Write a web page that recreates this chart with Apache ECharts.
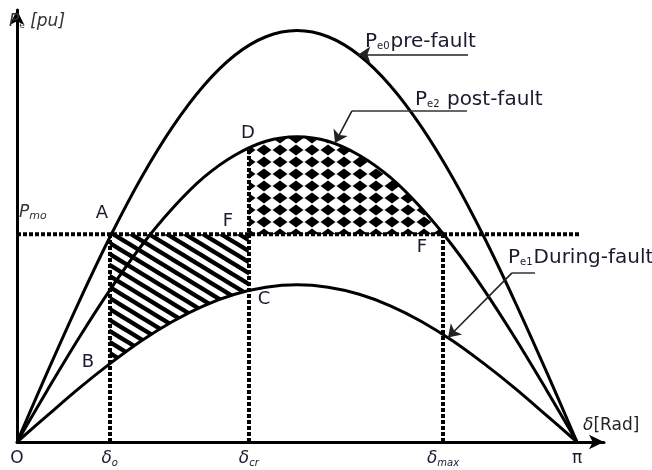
<!DOCTYPE html>
<html><head><meta charset="utf-8">
<script src="https://cdn.jsdelivr.net/npm/echarts@6/dist/echarts.min.js"></script>
<style>html,body{margin:0;padding:0;background:#fff}#c{width:652px;height:470px}</style>
</head><body><div id="c"></div>
<script>
// ---- data ----
const deltaRad = [0, 0.1745, 0.3491, 0.5236, 0.6981, 0.8727, 1.0472, 1.2217, 1.3963, 1.5708,
                  1.7453, 1.9199, 2.0944, 2.2689, 2.4435, 2.6180, 2.7925, 2.9671, 3.1416];
const pePreFault    = [0, 0.174, 0.342, 0.500, 0.643, 0.766, 0.866, 0.940, 0.985, 1.000,
                       0.985, 0.940, 0.866, 0.766, 0.643, 0.500, 0.342, 0.174, 0];
const pePostFault   = [0, 0.129, 0.254, 0.371, 0.477, 0.568, 0.643, 0.697, 0.731, 0.742,
                       0.731, 0.697, 0.643, 0.568, 0.477, 0.371, 0.254, 0.129, 0];
const peDuringFault = [0, 0.066, 0.131, 0.191, 0.246, 0.293, 0.331, 0.359, 0.376, 0.382,
                       0.376, 0.359, 0.331, 0.293, 0.246, 0.191, 0.131, 0.066, 0];
const pMech = 0.505;
const pMechEnd = 3.16;
const delta0 = 0.52, deltaCr = 1.30, deltaMax = 2.39;
const pe1AtDelta0 = 0.19, pe1AtDeltaCr = 0.367, pe2AtDeltaCr = 0.713;
const tickValues = [0, delta0, deltaCr, deltaMax, 3.1416];
const tickLabels = ['{o|O}', '{d|δ}{s|o}', '{d|δ}{s|cr}', '{d|δ}{s|max}', '{o|π}'];

// ---- helpers ----
const zip = (xs, ys) => xs.map((x, i) => [x, ys[i]]);
function hatchPattern() {
  const W = 18, H = 11, c = document.createElement('canvas');
  c.width = W; c.height = H;
  const g = c.getContext('2d');
  g.strokeStyle = '#000'; g.lineWidth = 4.4;
  for (const dx of [-W, 0, W]) { g.beginPath(); g.moveTo(dx - W, -H); g.lineTo(dx + 2 * W, 2 * H); g.stroke(); }
  return c;
}
function diamondPattern() {
  const W = 16, H = 12, c = document.createElement('canvas');
  c.width = W; c.height = H;
  const g = c.getContext('2d');
  g.fillStyle = '#000';
  g.beginPath(); g.moveTo(W / 2, 0.5); g.lineTo(W - 0.5, H / 2); g.lineTo(W / 2, H - 0.5); g.lineTo(0.5, H / 2); g.closePath(); g.fill();
  return c;
}
// region polygons (data space)
const accel = [[delta0, pMech], [deltaCr, pMech], [deltaCr, pe1AtDeltaCr]];
for (let i = deltaRad.length - 1; i >= 0; i--) if (deltaRad[i] > delta0 + 0.01 && deltaRad[i] < deltaCr - 0.01) accel.push([deltaRad[i], peDuringFault[i]]);
accel.push([delta0, pe1AtDelta0]);
const decel = [[deltaCr, pMech], [deltaCr, pe2AtDeltaCr]];
for (let i = 0; i < deltaRad.length; i++) if (deltaRad[i] > deltaCr + 0.01 && deltaRad[i] < deltaMax - 0.01) decel.push([deltaRad[i], pePostFault[i]]);
decel.push([deltaMax, pMech]);

const hatch = { image: hatchPattern(), repeat: 'repeat' };
const diam = { image: diamondPattern(), repeat: 'repeat' };

function regionSeries(poly, fill) {
  return {
    type: 'custom', z: 1, silent: true, data: [[0, 0]],
    renderItem: (params, api) => ({
      type: 'polygon',
      shape: { points: poly.map(p => api.coord(p)) },
      style: { fill: fill, stroke: null }
    })
  };
}
const curve = (ys) => ({
  type: 'line', data: zip(deltaRad, ys), smooth: 0.35, symbol: 'none', z: 5,
  lineStyle: { color: '#000', width: 3 }
});
const dash = { color: '#000', width: 4, type: [4, 2], cap: 'butt', opacity: 1 };

const FONT = '"DejaVu Sans", sans-serif';
const labTxt = '#1a1a2e';
function lbl(x, y, text, size, extra) {
  return Object.assign({ type: 'text', x: x, y: y, z: 50,
    style: Object.assign({ text: text, fill: labTxt, fontFamily: FONT, fontSize: size, verticalAlign: 'middle' }, extra || {}) });
}
const curveRich = {
  p: { fontSize: 20, fontFamily: FONT, fill: labTxt },
  s: { fontSize: 10, fontFamily: FONT, fill: labTxt, padding: [8, 1, 0, 0] },
  n: { fontSize: 20, fontFamily: FONT, fill: labTxt }
};

const chart = echarts.init(document.getElementById('c'), null, { renderer: 'canvas' });
chart.setOption({
  animation: false,
  backgroundColor: '#fff',
  grid: { left: 17, right: 48, top: 10, bottom: 28 },
  xAxis: {
    type: 'value', min: 0, max: 3.293,
    axisLine: { show: true, symbol: ['none', 'arrow'], symbolSize: [11, 15], lineStyle: { color: '#000', width: 3 } },
    axisTick: { show: false }, splitLine: { show: false },
    axisLabel: {
      customValues: tickValues, showMinLabel: true, showMaxLabel: true, margin: 8,
      formatter: (v) => { let k = 0; tickValues.forEach((t, i) => { if (Math.abs(t - v) < Math.abs(tickValues[k] - v)) k = i; }); return tickLabels[k]; },
      rich: {
        o: { fontSize: 17, fontFamily: FONT, color: '#1a1a2e' },
        d: { fontSize: 17, fontFamily: FONT, fontStyle: 'italic', color: '#1a1a2e' },
        s: { fontSize: 10, fontFamily: FONT, fontStyle: 'italic', color: '#1a1a2e', padding: [8, 0, 0, 0] }
      }
    }
  },
  yAxis: {
    type: 'value', min: 0, max: 1.05,
    axisLine: { show: true, symbol: ['none', 'arrow'], symbolSize: [11, 15], lineStyle: { color: '#000', width: 3 } },
    axisTick: { show: false }, splitLine: { show: false }, axisLabel: { show: false }
  },
  series: [
    regionSeries(accel, hatch),
    regionSeries(decel, diam),
    curve(pePreFault),
    curve(pePostFault),
    curve(peDuringFault),
    { type: 'line', data: [[0, pMech], [pMechEnd, pMech]], symbol: 'none', z: 4, lineStyle: dash },
    { type: 'lines', coordinateSystem: 'cartesian2d', z: 4, silent: true, lineStyle: dash,
      data: [
        { coords: [[delta0, 0], [delta0, pMech]] },
        { coords: [[deltaCr, 0], [deltaCr, pe2AtDeltaCr]] },
        { coords: [[deltaMax, 0], [deltaMax, pMech]] }
      ] },
    { type: 'lines', coordinateSystem: 'cartesian2d', z: 6, silent: true,
      lineStyle: { color: '#333', width: 1.6, opacity: 1 }, symbol: ['none', 'none'],
      data: [
        { coords: [[2.524, 0.805], [1.879, 0.805]] },
        { coords: [[2.906, 0.411], [2.777, 0.411]] }
      ] },
    { type: 'lines', coordinateSystem: 'cartesian2d', z: 6, silent: true,
      lineStyle: { color: '#222', width: 1.6, opacity: 1 }, symbol: ['none', 'arrow'], symbolSize: 12,
      data: [
        { coords: [[2.530, 0.942], [1.915, 0.942]] },
        { coords: [[1.879, 0.805], [1.784, 0.727]] },
        { coords: [[2.777, 0.411], [2.418, 0.254]] }
      ] }
  ],
  graphic: [
    lbl(9, 22, '{p|P}{s|e}{i| [pu]}', 17, { rich: { p: { fontSize: 17, fontStyle: 'italic', fontFamily: FONT, fill: '#333' }, s: { fontSize: 9, fontFamily: FONT, fill: '#333', padding: [7, 0, 0, 0] }, i: { fontSize: 17, fontStyle: 'italic', fontFamily: FONT, fill: '#333' } } }),
    lbl(365, 42, '{p|P}{s|e0}{n|pre-fault}', 20, { rich: curveRich }),
    lbl(415, 100, '{p|P}{s|e2}{n| post-fault}', 20, { rich: curveRich }),
    lbl(508, 258, '{p|P}{s|e1}{n|During-fault}', 20, { rich: curveRich }),
    lbl(19, 213, '{p|P}{s|mo}', 17, { rich: { p: { fontSize: 17, fontStyle: 'italic', fontFamily: FONT, fill: '#333' }, s: { fontSize: 11, fontStyle: 'italic', fontFamily: FONT, fill: '#333', padding: [7, 0, 0, 0] } } }),
    lbl(102, 213, 'A', 18, { align: 'center' }),
    lbl(228, 221, 'F', 18, { align: 'center' }),
    lbl(264, 299, 'C', 18, { align: 'center' }),
    lbl(88, 362, 'B', 18, { align: 'center' }),
    lbl(248, 133, 'D', 18, { align: 'center' }),
    lbl(422, 247, 'F', 18, { align: 'center' }),
    lbl(583, 426, '{d|δ}{n|[Rad]}', 17, { rich: { d: { fontSize: 17, fontStyle: 'italic', fontFamily: FONT, fill: '#222' }, n: { fontSize: 17, fontFamily: FONT, fill: '#222' } } })
  ]
});
</script></body></html>
